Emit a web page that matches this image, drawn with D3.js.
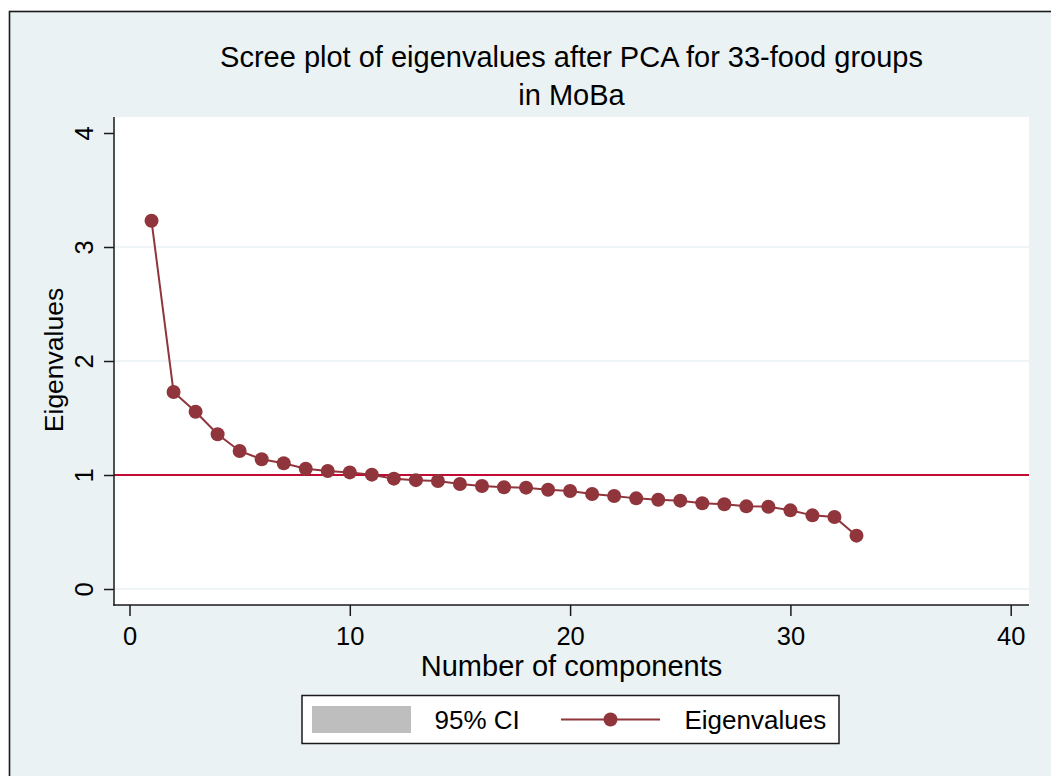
<!DOCTYPE html>
<html>
<head>
<meta charset="utf-8">
<script src="https://cdn.jsdelivr.net/npm/d3@7"></script>
<style>
  html, body { margin: 0; padding: 0; background: #ffffff; }
  svg { display: block; }
  text { font-family: "Liberation Sans", Arial, Helvetica, sans-serif; fill: #000; }
</style>
</head>
<body>
<svg id="chart" width="1051" height="776"></svg>
<script>
// ---- data ----
const titleLines = ["Scree plot of eigenvalues after PCA for 33-food groups", "in MoBa"];
const xTitle = "Number of components";
const yTitle = "Eigenvalues";
const components = [1,2,3,4,5,6,7,8,9,10,11,12,13,14,15,16,17,18,19,20,21,22,23,24,25,26,27,28,29,30,31,32,33];
const eigenvalues = [3.23,1.728,1.555,1.357,1.211,1.138,1.103,1.055,1.035,1.023,1.003,0.968,0.955,
                     0.947,0.921,0.904,0.892,0.889,0.871,0.860,0.833,0.816,0.795,0.783,0.775,0.752,
                     0.743,0.725,0.722,0.690,0.646,0.632,0.468];
const xTicks = [0,10,20,30,40];
const yTicks = [0,1,2,3,4];
const yGrid = [0,1,2,3];
const refLine = 1;
const legendLabels = ["95% CI", "Eigenvalues"];

// ---- layout ----
const W = 1051, H = 776;
const plot = {left: 114, right: 1029, top: 117, bottom: 605};
const svg = d3.select("#chart");

// graph region background
svg.append("rect").attr("x", 0).attr("y", 0).attr("width", W).attr("height", H).attr("fill", "#ffffff");
svg.append("rect").attr("x", 9.5).attr("y", 11.5).attr("width", W + 50).attr("height", H + 50)
  .attr("fill", "#eaf2f3").attr("stroke", "#1a1a1a").attr("stroke-width", 1.6);

// plot region
svg.append("rect").attr("x", plot.left).attr("y", plot.top)
  .attr("width", plot.right - plot.left).attr("height", plot.bottom - plot.top)
  .attr("fill", "#ffffff");

const x = d3.scaleLinear().domain([0, 40]).range([129.5, 1010.7]);
const y = d3.scaleLinear().domain([0, 4]).range([589, 133]);

// gridlines
svg.append("g").selectAll("line").data(yGrid).join("line")
  .attr("x1", plot.left).attr("x2", plot.right)
  .attr("y1", d => y(d)).attr("y2", d => y(d))
  .attr("stroke", "#eaf2f3").attr("stroke-width", 1.6);

// reference line
svg.append("line")
  .attr("x1", plot.left).attr("x2", plot.right)
  .attr("y1", y(refLine)).attr("y2", y(refLine))
  .attr("stroke", "#c20a35").attr("stroke-width", 2);

// series
svg.append("path")
  .datum(components.map((c, i) => [c, eigenvalues[i]]))
  .attr("fill", "none").attr("stroke", "#90353b").attr("stroke-width", 2)
  .attr("d", d3.line().x(d => x(d[0])).y(d => y(d[1])));
svg.append("g").selectAll("circle").data(components.map((c, i) => [c, eigenvalues[i]])).join("circle")
  .attr("cx", d => x(d[0])).attr("cy", d => y(d[1])).attr("r", 7)
  .attr("fill", "#90353b");

// axes
const yAxis = svg.append("g").attr("transform", `translate(${plot.left},0)`)
  .call(d3.axisLeft(y).tickValues(yTicks).tickSize(10).tickFormat(d3.format("d")));
yAxis.select(".domain").remove();
yAxis.selectAll(".tick line").attr("stroke", "#1a1a1a").attr("stroke-width", 1.5);
yAxis.selectAll(".tick text")
  .attr("transform", "rotate(-90)")
  .attr("x", 0).attr("y", -21.5).attr("dy", 0)
  .attr("text-anchor", "middle")
  .style("font-size", "25.5px").style("font-family", "Liberation Sans, Arial, sans-serif").attr("fill", "#000");
svg.append("line").attr("x1", plot.left).attr("x2", plot.left)
  .attr("y1", plot.top).attr("y2", plot.bottom + 0.75)
  .attr("stroke", "#1a1a1a").attr("stroke-width", 1.5);

const xAxis = svg.append("g").attr("transform", `translate(0,${plot.bottom})`)
  .call(d3.axisBottom(x).tickValues(xTicks).tickSize(11).tickPadding(11).tickFormat(d3.format("d")));
xAxis.select(".domain").remove();
xAxis.selectAll(".tick line").attr("stroke", "#1a1a1a").attr("stroke-width", 1.5);
xAxis.selectAll(".tick text")
  .style("font-size", "25.5px").style("font-family", "Liberation Sans, Arial, sans-serif").attr("fill", "#000");
svg.append("line").attr("x1", plot.left - 0.75).attr("x2", plot.right)
  .attr("y1", plot.bottom).attr("y2", plot.bottom)
  .attr("stroke", "#1a1a1a").attr("stroke-width", 1.5);

// titles
const cx = (plot.left + plot.right) / 2;
svg.append("text").attr("x", cx).attr("y", 67).attr("text-anchor", "middle")
  .style("font-size", "29px").text(titleLines[0]);
svg.append("text").attr("x", cx).attr("y", 105).attr("text-anchor", "middle")
  .style("font-size", "29px").text(titleLines[1]);
svg.append("text").attr("x", cx).attr("y", 676).attr("text-anchor", "middle")
  .style("font-size", "29px").text(xTitle);
svg.append("text").attr("transform", `translate(63,360) rotate(-90)`).attr("text-anchor", "middle")
  .style("font-size", "26.5px").text(yTitle);

// legend
const lg = svg.append("g");
lg.append("rect").attr("x", 302).attr("y", 695.5).attr("width", 537).attr("height", 48)
  .attr("fill", "#ffffff").attr("stroke", "#1a1a1a").attr("stroke-width", 1.5);
lg.append("rect").attr("x", 312).attr("y", 706).attr("width", 99).attr("height", 27).attr("fill", "#bebebe");
lg.append("text").attr("x", 434.5).attr("y", 729).style("font-size", "26px").text(legendLabels[0]);
lg.append("line").attr("x1", 561).attr("x2", 660).attr("y1", 719.5).attr("y2", 719.5)
  .attr("stroke", "#90353b").attr("stroke-width", 2);
lg.append("circle").attr("cx", 610.5).attr("cy", 719.5).attr("r", 7).attr("fill", "#90353b");
lg.append("text").attr("x", 684.5).attr("y", 729).style("font-size", "26px").text(legendLabels[1]);
</script>
</body>
</html>
